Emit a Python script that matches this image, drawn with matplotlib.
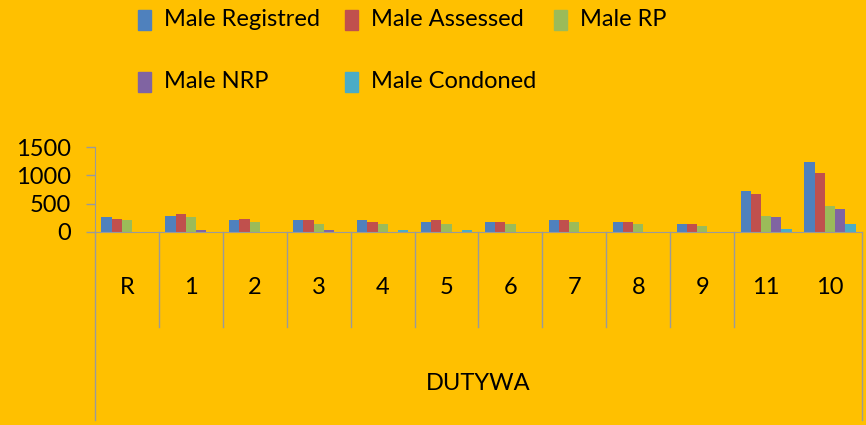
import numpy as np
import matplotlib.pyplot as plt
from matplotlib import font_manager
from matplotlib.patches import Rectangle
import matplotlib.transforms as mtransforms

# 字体：优先使用窄体
names = set(f.name for f in font_manager.fontManager.ttflist)
if 'Liberation Sans Narrow' in names:
    font = 'Liberation Sans Narrow'
else:
    font = 'Lato'
plt.rcParams['font.family'] = [font, 'DejaVu Sans']

# 数据
categories = ['R', '1', '2', '3', '4', '5', '6', '7', '8', '9', '11', '10']
series_names = ['Male Registred', 'Male Assessed', 'Male RP', 'Male NRP', 'Male Condoned']
registred = [257, 286, 203, 203, 203, 179, 179, 203, 173, 143, 715, 1233]
assessed = [233, 322, 233, 203, 179, 203, 179, 203, 173, 143, 662, 1037]
rp = [203, 257, 173, 143, 143, 143, 143, 173, 143, 113, 286, 459]
nrp = [0, 36, 0, 36, 0, 0, 0, 0, 0, 0, 257, 405]
condoned = [0, 0, 0, 0, 36, 36, 0, 0, 0, 0, 60, 143]
group_label = 'DUTYWA'

colors = ['#4F81BD', '#C0504D', '#9BBB59', '#8064A2', '#4BACC6']
bg = '#FFC000'
grey = '#9A9A9A'

W, H = 866, 425
fig = plt.figure(figsize=(W / 100, H / 100), dpi=100, facecolor=bg)
ax = fig.add_axes([95 / W, (H - 232) / H, 767 / W, 85 / H], facecolor=bg)

x = np.arange(len(categories))
w = 0.16
for k, vals in enumerate([registred, assessed, rp, nrp, condoned]):
    ax.bar(x + (k - 2) * w, vals, width=w, color=colors[k], label=series_names[k])

ax.set_xlim(-0.5, len(categories) - 0.5)
ax.set_ylim(0, 1500)
ax.set_yticks([0, 500, 1000, 1500])
ax.tick_params(axis='y', length=6.5, width=1, color=grey, pad=11, labelsize=17)
ax.tick_params(axis='x', length=0, labelbottom=False)
for s in ['top', 'right']:
    ax.spines[s].set_visible(False)
ax.spines['left'].set_color(grey)
ax.spines['bottom'].set_color(grey)

# 多级分类轴
trans = mtransforms.blended_transform_factory(ax.transData, ax.transAxes)
y_sep = (232 - 327) / 85
y_end = (232 - 420) / 85
for b in np.arange(len(categories) - 2) + 0.5:
    ax.plot([b, b], [0, y_sep], color=grey, lw=1, transform=trans, clip_on=False)
ax.plot([-0.5, -0.5], [0, y_end], color=grey, lw=1, transform=trans, clip_on=False)
ax.plot([11.5, 11.5], [0, y_end], color=grey, lw=1, transform=trans, clip_on=False)
for i, c in enumerate(categories):
    ax.text(i, (232 - 287) / 85, c, transform=trans, ha='center', va='center', fontsize=17)
ax.text(5.5, (232 - 383) / 85, group_label, transform=trans, ha='center', va='center', fontsize=17)

# 图例
pos = [(138, 20), (345, 20), (554, 20), (138, 82), (345, 82)]
for k, name in enumerate(series_names):
    px, py = pos[k]
    fig.add_artist(Rectangle((px / W, 1 - (py + 10) / H), 13 / W, 20 / H,
                             transform=fig.transFigure, color=colors[k]))
    fig.text((px + 26) / W, 1 - py / H, name, ha='left', va='center', fontsize=17)

fig.savefig('out.png', dpi=100, facecolor=bg)
